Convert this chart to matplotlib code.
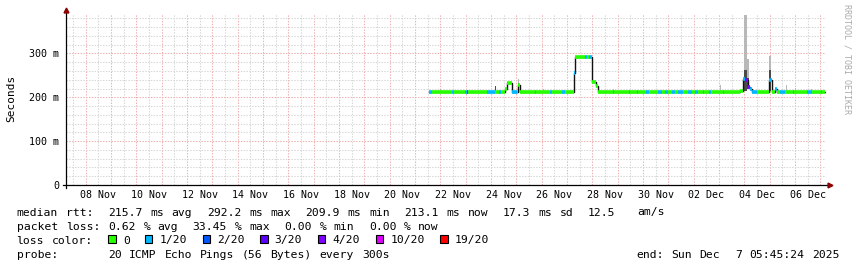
import re
import matplotlib
matplotlib.use("Agg")
import matplotlib.pyplot as plt
import matplotlib.dates as mdates
import matplotlib.transforms as mtransforms
from matplotlib.ticker import MultipleLocator, FixedLocator
from matplotlib.patches import Rectangle
import pandas as pd

# ---------------- data ----------------
YEAR = "2025"
start_time = "2025-11-07 05:45:24"
end_time = "2025-12-07 05:45:24"
data_end = "12-07 04:30"

# median rtt steps: start time, median (ms), loss (pings lost out of 20)
seg_start = ["11-21 13:30", "11-21 16:30", "11-22 11:30", "11-22 13:00", "11-22 23:00",
             "11-23 01:00", "11-23 02:00", "11-23 20:00", "11-24 04:00", "11-24 08:00",
             "11-24 09:30", "11-24 13:30", "11-24 15:30", "11-24 20:00", "11-25 01:00",
             "11-25 02:00", "11-25 03:30", "11-25 17:30", "11-25 18:30", "11-26 08:00",
             "11-26 09:30", "11-26 19:00", "11-26 22:00", "11-27 07:00", "11-27 08:00",
             "11-27 17:30", "11-27 19:00", "11-27 21:00", "11-27 23:30", "11-28 03:30",
             "11-28 05:30", "11-28 19:30", "11-28 21:00", "11-29 10:30", "11-29 11:30",
             "11-29 18:00", "11-29 19:00", "11-30 03:00", "11-30 05:30", "11-30 14:30",
             "11-30 18:00", "11-30 21:00", "11-30 23:30", "12-01 03:30", "12-01 06:30",
             "12-01 09:30", "12-01 14:00", "12-01 18:30", "12-01 22:30", "12-02 01:30",
             "12-02 04:00", "12-02 08:30", "12-02 09:30", "12-02 15:00", "12-02 16:00",
             "12-03 03:30", "12-03 04:30", "12-03 20:00", "12-03 23:00", "12-04 01:00",
             "12-04 03:30", "12-04 05:00", "12-04 07:30", "12-04 12:00", "12-04 23:00",
             "12-05 02:00", "12-05 05:00", "12-05 07:00", "12-05 08:00", "12-05 10:00",
             "12-05 14:30", "12-05 22:00", "12-05 23:00", "12-06 11:00", "12-06 16:00",
             "12-07 01:00", "12-07 02:00"]
seg_median = [211, 211, 211, 211, 211,
              211, 211, 211, 211, 211,
              211, 218, 233, 211, 211,
              228, 211, 211, 211, 211,
              211, 211, 211, 255, 292,
              292, 292, 292, 234, 226,
              211, 211, 211, 211, 211,
              211, 211, 211, 211, 211,
              211, 211, 211, 211, 211,
              211, 211, 211, 211, 211,
              211, 211, 211, 211, 211,
              211, 211, 214, 241, 239,
              224, 218, 212, 212, 239,
              211, 220, 211, 213, 213,
              213, 213, 213, 213, 213,
              213, 213]
seg_loss = [1, 0, 1, 0, 1,
            4, 0, 1, 0, 1,
            0, 0, 0, 1, 0,
            0, 0, 1, 0, 1,
            0, 1, 0, 1, 0,
            1, 0, 1, 0, 0,
            0, 1, 0, 1, 0,
            1, 0, 1, 0, 1,
            0, 1, 0, 1, 0,
            1, 0, 1, 0, 1,
            0, 1, 0, 1, 0,
            1, 0, 0, 1, 4,
            4, 1, 1, 0, 1,
            0, 1, 0, 0, 1,
            0, 1, 0, 1, 0,
            1, 0]

# smoke (spread of the 20 pings): time, width (hours), low, dark top, top (ms)
smoke_t = ["11-22 00:00", "11-24 04:00", "11-25 02:00", "11-26 01:30", "11-28 20:00",
           "12-03 01:00", "12-04 00:00", "12-04 03:00", "12-04 23:00", "12-05 15:30",
           "12-06 00:00", "12-06 15:00"]
smoke_hours = [1, 1, 1, 1, 1, 1, 3, 1.2, 2.2, 1, 1, 1]
smoke_low = [209, 211, 228, 209, 209, 209, 215, 220, 214, 211, 211, 211]
smoke_dark = [211, 225, 232, 211, 211, 211, 262, 245, 262, 213, 213, 213]
smoke_top = [220, 225, 241, 220, 218, 228, 387, 288, 294, 228, 222, 220]

loss_levels = [0, 1, 2, 3, 4, 10, 19]
loss_labels = ["0", "1/20", "2/20", "3/20", "4/20", "10/20", "19/20"]
loss_colors = ["#26ff00", "#00b8ff", "#0059ff", "#5e00ff", "#7e00ff", "#dd00ff", "#ff0000"]

y_ticks = [0, 100, 200, 300]
y_tick_labels = ["0", "100 m", "200 m", "300 m"]
x_labels = ["08 Nov", "10 Nov", "12 Nov", "14 Nov", "16 Nov", "18 Nov", "20 Nov",
            "22 Nov", "24 Nov", "26 Nov", "28 Nov", "30 Nov", "02 Dec", "04 Dec", "06 Dec"]

legend_lines = [
    "median rtt:  215.7 ms avg  292.2 ms max  209.9 ms min  213.1 ms now  17.3 ms sd  12.5   am/s",
    "packet loss: 0.62 % avg  33.45 % max  0.00 % min  0.00 % now",
    "loss color:",
    "probe:       20 ICMP Echo Pings (56 Bytes) every 300s",
]
end_text = "end: Sun Dec  7 05:45:24 2025"
y_title = "Seconds"
side_text = "RRDTOOL / TOBI OETIKER"

# ---------------- drawing ----------------
W, H = 857, 267
MONO = "DejaVu Sans Mono"
LEG_FS = 8.2
AX_FS = 7.2
fig = plt.figure(figsize=(W / 100, H / 100), dpi=100)
fig.patch.set_facecolor("white")

def fx(px):
    return px / W

def fy(py):
    return 1 - py / H

ax = fig.add_axes([fx(66.4), fy(185), 760 / W, 171 / H])
ax.set_facecolor("white")

def tnum(s):
    return mdates.date2num(pd.Timestamp(f"{YEAR}-{s}"))

ax.set_xlim(mdates.date2num(pd.Timestamp(start_time)), mdates.date2num(pd.Timestamp(end_time)))
ax.set_ylim(0, 390)

# grid
ax.xaxis.set_major_locator(mdates.DayLocator())
ax.xaxis.set_minor_locator(mdates.HourLocator(byhour=[12]))
ax.yaxis.set_major_locator(FixedLocator(y_ticks))
ax.yaxis.set_minor_locator(MultipleLocator(20))
ax.set_yticks(y_ticks, y_tick_labels)
ax.grid(which="major", color="#f0b0b0", linestyle=(0, (1.35, 1.35)), lw=0.75)
ax.grid(which="minor", color="#d6d6d6", linestyle=(0, (1.35, 1.35)), lw=0.75)
ax.set_axisbelow(True)
ax.tick_params(axis="x", which="both", length=0, labelbottom=False)
ax.tick_params(axis="y", which="both", length=0, pad=5)
for lab in ax.get_yticklabels():
    lab.set_fontfamily(MONO)
    lab.set_fontsize(AX_FS)
for sp in ax.spines.values():
    sp.set_visible(False)

# smoke
for t, w, lo, dk, top in zip(smoke_t, smoke_hours, smoke_low, smoke_dark, smoke_top):
    x = tnum(t)
    ax.bar(x, top - lo, bottom=lo, width=w / 24, color="#b8b8b8", align="edge", lw=0, zorder=2)
    ax.bar(x, dk - lo, bottom=lo, width=w / 24, color="#4a4a4a", align="edge", lw=0, zorder=2)

# median: black steps + loss-coloured segments
xs = [tnum(s) for s in seg_start] + [tnum(data_end)]
ys = seg_median + [seg_median[-1]]
ax.plot(xs, ys, drawstyle="steps-post", color="#111111", lw=1.0, zorder=3)
cmap = dict(zip(loss_levels, loss_colors))
for i in range(len(seg_start)):
    ax.hlines(seg_median[i], xs[i], xs[i + 1], color=cmap[seg_loss[i]], lw=2.6, zorder=4)

# axes lines with arrows
ax.plot([0, 0], [-0.015, 1.02], transform=ax.transAxes, color="#000000", lw=0.9, clip_on=False, zorder=5)
ax.plot([-0.005, 1.002], [0, 0], transform=ax.transAxes, color="#000000", lw=0.9, clip_on=False, zorder=5)
ax.plot([0], [1.025], transform=ax.transAxes, marker="^", ms=3.5, color="#8b0000", clip_on=False, zorder=6)
ax.plot([1.005], [0], transform=ax.transAxes, marker=">", ms=3.5, color="#8b0000", clip_on=False, zorder=6)

# x labels at noon of labelled days
xtrans = mtransforms.blended_transform_factory(ax.transData, fig.transFigure)
for lab in x_labels:
    x = mdates.date2num(pd.Timestamp(f"{lab} {YEAR} 12:00"))
    ax.text(x, fy(198.5), lab, transform=xtrans, ha="center", va="baseline", family=MONO, fontsize=AX_FS)

# titles
fig.text(fx(11), fy(98), y_title, rotation=90, ha="center", va="center", family=MONO, fontsize=8)
fig.text(fx(847), fy(4), side_text, rotation=270, ha="center", va="top", family=MONO,
         fontsize=6, color="#aaaaaa")

# legend text
CW = 7.05
X0 = 16.5
baselines = [215.5, 229.5, 243.5, 257.5]
for line, yb in zip(legend_lines, baselines):
    for m in re.finditer(r"\S+", line):
        fig.text(fx(X0 + m.start() * CW), fy(yb), m.group(), ha="left", va="baseline",
                 family=MONO, fontsize=LEG_FS)

# loss color boxes
xb = 108.3
for lab, col in zip(loss_labels, loss_colors):
    fig.add_artist(Rectangle((fx(xb), fy(243.3)), 7.5 / W, 8.3 / H, transform=fig.transFigure,
                             facecolor=col, edgecolor="black", lw=0.8))
    fig.text(fx(xb + 14.5), fy(baselines[2]), lab, ha="left", va="baseline", family=MONO, fontsize=LEG_FS)
    xb += 14.5 + len(lab) * CW + 15

# end text, right aligned
xe = 840.5 - len(end_text) * CW
for m in re.finditer(r"\S+", end_text):
    fig.text(fx(xe + m.start() * CW), fy(baselines[3]), m.group(), ha="left", va="baseline",
             family=MONO, fontsize=LEG_FS)

fig.savefig("out.png", dpi=100, facecolor="white")
